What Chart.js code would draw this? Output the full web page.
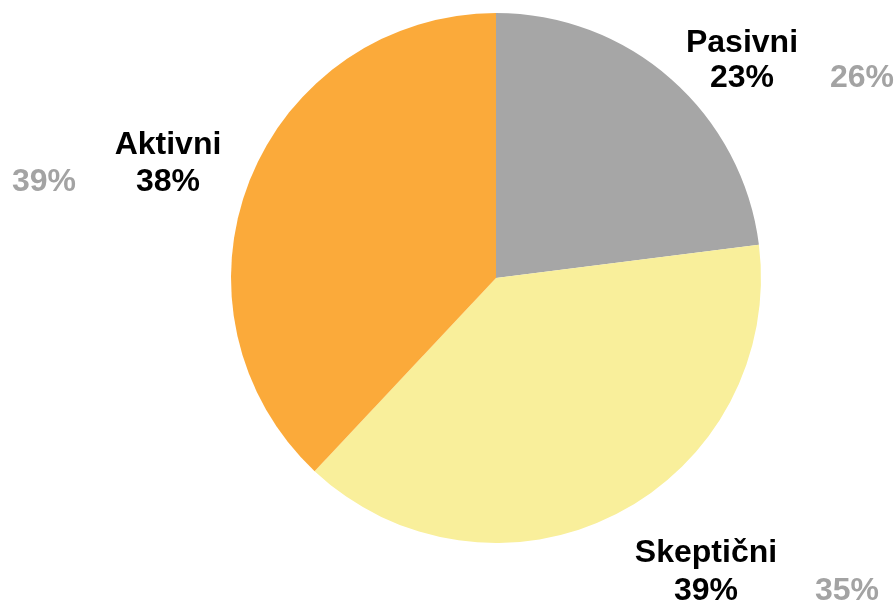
<!DOCTYPE html>
<html>
<head>
<meta charset="utf-8">
<script src="https://cdn.jsdelivr.net/npm/chart.js@4"></script>
<style>
html,body{margin:0;padding:0;background:#fff;}
#wrap{width:896px;height:604px;position:relative;}
</style>
</head>
<body>
<div id="wrap"><canvas id="c" width="896" height="604"></canvas></div>
<script>
// Data
const categories = ['Pasivni', 'Skeptični', 'Aktivni'];
const currentValues = [23, 39, 38];
const previousValues = [26, 35, 39];
const sliceColors = ['#a6a6a6', '#f9ef9b', '#fbaa3a'];

// Label placement relative to the pie centre (pixels)
const labelLayout = [
  {dx: 246, dy: -226, gdx: 366, gap: 35},
  {dx: 210, dy: 284, gdx: 351, gap: 38},
  {dx: -328, dy: -124, gdx: -452, gap: 37}
];

const labelPlugin = {
  id: 'sliceLabels',
  afterDraw(chart) {
    const ctx = chart.ctx;
    const meta = chart.getDatasetMeta(0);
    ctx.save();
    ctx.font = 'bold 32px "Liberation Sans", Arial, sans-serif';
    ctx.textAlign = 'center';
    ctx.textBaseline = 'alphabetic';
    meta.data.forEach((arc, i) => {
      const L = labelLayout[i];
      const x = arc.x + L.dx;
      const y = arc.y + L.dy;
      ctx.fillStyle = '#000';
      ctx.fillText(categories[i], x, y);
      ctx.fillText(currentValues[i] + '%', x, y + L.gap);
      ctx.fillStyle = '#a3a3a3';
      ctx.fillText(previousValues[i] + '%', arc.x + L.gdx, y + L.gap);
    });
    ctx.restore();
  }
};

new Chart(document.getElementById('c'), {
  type: 'pie',
  data: {
    labels: categories,
    datasets: [{
      data: currentValues,
      backgroundColor: sliceColors,
      borderWidth: 0
    }]
  },
  options: {
    responsive: false,
    animation: false,
    layout: {padding: {left: 96, right: 0, top: 13, bottom: 61}},
    plugins: {legend: {display: false}, tooltip: {enabled: false}}
  },
  plugins: [labelPlugin]
});
</script>
</body>
</html>
